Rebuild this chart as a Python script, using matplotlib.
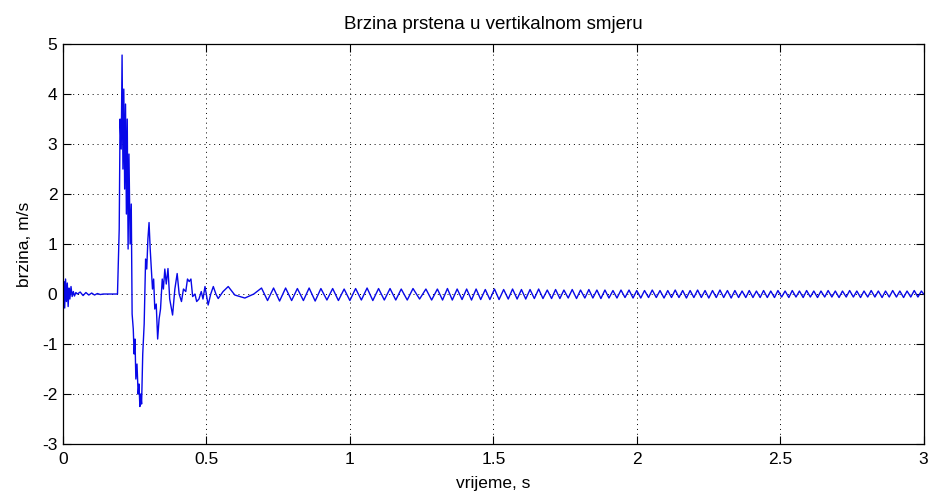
import numpy as np
import matplotlib
matplotlib.use("Agg")
import matplotlib.pyplot as plt

plt.rcParams['font.family'] = ['Liberation Sans', 'DejaVu Sans']
plt.rcParams['axes.unicode_minus'] = False

# impact transient (time s, velocity m/s)
t_early = [0.000, 0.003, 0.006, 0.009, 0.012, 0.015, 0.018, 0.021, 0.024, 0.028,
           0.032, 0.036, 0.040, 0.045, 0.050, 0.060, 0.070, 0.080, 0.090, 0.100,
           0.110, 0.120, 0.130, 0.140, 0.190, 0.196, 0.199, 0.203, 0.206, 0.209,
           0.212, 0.215, 0.218, 0.221, 0.224, 0.227, 0.230, 0.234, 0.238, 0.241,
           0.245, 0.248, 0.251, 0.254, 0.258, 0.262, 0.265, 0.268, 0.271, 0.274,
           0.278, 0.283, 0.288, 0.292, 0.296, 0.300, 0.304, 0.308, 0.312, 0.316,
           0.320, 0.325, 0.330, 0.335, 0.340, 0.346, 0.350, 0.355, 0.360, 0.366,
           0.372, 0.382, 0.390, 0.398, 0.405, 0.413, 0.420, 0.428, 0.434, 0.440,
           0.446, 0.452, 0.460, 0.466, 0.474, 0.482, 0.488, 0.495, 0.506, 0.515,
           0.524, 0.533, 0.541, 0.558, 0.576, 0.599, 0.634, 0.665]
v_early = [0.00, 0.25, -0.28, 0.30, -0.15, 0.22, -0.25, 0.12, -0.10, 0.15,
           -0.05, 0.05, -0.04, 0.03, 0.00, 0.04, -0.03, 0.03, -0.02, 0.02,
           -0.02, 0.01, -0.01, 0.00, 0.00, 1.30, 3.50, 2.90, 4.78, 2.50,
           4.10, 2.10, 3.80, 1.60, 3.50, 0.90, 2.80, 1.00, 1.80, -0.40,
           -0.70, -1.20, -0.90, -1.70, -1.40, -2.00, -1.80, -2.25, -2.00, -2.20,
           -1.20, -0.60, 0.70, 0.50, 1.10, 1.43, 0.90, 0.50, 0.10, 0.30,
           -0.30, -0.20, -0.90, -0.50, -0.30, 0.30, 0.10, 0.50, 0.20, 0.51,
           -0.10, -0.42, 0.10, 0.41, 0.00, -0.15, 0.10, 0.05, 0.30, 0.25,
           0.30, -0.05, 0.00, -0.15, -0.10, 0.05, -0.10, 0.15, -0.22, 0.00,
           0.15, 0.00, -0.09, 0.05, 0.15, -0.02, -0.08, 0.00]

# ring oscillation afterwards: successive peaks and troughs
t_osc = [0.692, 0.713, 0.734, 0.755, 0.776, 0.797, 0.817, 0.838, 0.858, 0.879,
         0.899, 0.920, 0.940, 0.960, 0.980, 1.000, 1.020, 1.040, 1.060, 1.080,
         1.100, 1.120, 1.140, 1.160, 1.179, 1.200, 1.220, 1.243, 1.265, 1.285,
         1.305, 1.323, 1.340, 1.357, 1.374, 1.391, 1.407, 1.424, 1.440, 1.456,
         1.472, 1.488, 1.504, 1.520, 1.536, 1.552, 1.567, 1.583, 1.598, 1.613,
         1.628, 1.643, 1.658, 1.673, 1.688, 1.703, 1.717, 1.732, 1.746, 1.761,
         1.775, 1.790, 1.804, 1.819, 1.833, 1.847, 1.861, 1.875, 1.889, 1.903,
         1.917, 1.931, 1.945, 1.959, 1.973, 1.987, 2.000, 2.014, 2.027, 2.041,
         2.054, 2.068, 2.081, 2.095, 2.108, 2.121, 2.134, 2.147, 2.160, 2.173,
         2.186, 2.199, 2.212, 2.225, 2.238, 2.251, 2.264, 2.277, 2.290, 2.303,
         2.316, 2.329, 2.342, 2.355, 2.367, 2.380, 2.392, 2.405, 2.417, 2.430,
         2.442, 2.455, 2.467, 2.480, 2.492, 2.505, 2.517, 2.530, 2.542, 2.555,
         2.567, 2.580, 2.592, 2.605, 2.617, 2.630, 2.642, 2.655, 2.667, 2.680,
         2.692, 2.705, 2.717, 2.730, 2.742, 2.755, 2.767, 2.780, 2.792, 2.805,
         2.817, 2.830, 2.842, 2.855, 2.867, 2.880, 2.892, 2.905, 2.917, 2.930,
         2.942, 2.955, 2.967, 2.980, 2.992, 3.000]
v_osc = [0.12, -0.13, 0.12, -0.14, 0.12, -0.13, 0.11, -0.13, 0.12, -0.14,
         0.11, -0.12, 0.11, -0.13, 0.10, -0.13, 0.11, -0.12, 0.12, -0.13,
         0.11, -0.12, 0.11, -0.12, 0.10, -0.12, 0.11, -0.10, 0.10, -0.12,
         0.10, -0.12, 0.11, -0.12, 0.10, -0.11, 0.10, -0.12, 0.10, -0.11,
         0.09, -0.11, 0.10, -0.11, 0.09, -0.10, 0.10, -0.10, 0.09, -0.10,
         0.09, -0.09, 0.10, -0.09, 0.08, -0.09, 0.09, -0.09, 0.08, -0.08,
         0.09, -0.09, 0.08, -0.08, 0.09, -0.08, 0.08, -0.09, 0.08, -0.08,
         0.07, -0.08, 0.08, -0.07, 0.08, -0.08, 0.07, -0.08, 0.07, -0.07,
         0.08, -0.07, 0.07, -0.08, 0.07, -0.07, 0.08, -0.07, 0.07, -0.08,
         0.07, -0.07, 0.08, -0.07, 0.07, -0.08, 0.07, -0.07, 0.08, -0.07,
         0.07, -0.08, 0.07, -0.07, 0.06, -0.07, 0.07, -0.07, 0.06, -0.07,
         0.07, -0.07, 0.06, -0.07, 0.07, -0.06, 0.06, -0.07, 0.07, -0.06,
         0.06, -0.07, 0.07, -0.06, 0.06, -0.07, 0.06, -0.06, 0.07, -0.06,
         0.06, -0.07, 0.06, -0.06, 0.07, -0.06, 0.06, -0.07, 0.06, -0.06,
         0.07, -0.06, 0.06, -0.07, 0.06, -0.06, 0.07, -0.06, 0.06, -0.07,
         0.06, -0.06, 0.07, -0.06, 0.06, 0.00]

x_ticks = [0, 0.5, 1, 1.5, 2, 2.5, 3]
x_labels = ['0', '0.5', '1', '1.5', '2', '2.5', '3']
y_ticks = [-3, -2, -1, 0, 1, 2, 3, 4, 5]

t = np.array(t_early + t_osc)
v = np.array(v_early + v_osc)

fig = plt.figure(figsize=(9.33, 4.95), dpi=100)
ax = fig.add_axes([0.0675, 0.103, 0.9225, 0.808])
ax.plot(t, v, color='#0808e8', lw=1.0)

ax.set_xlim(0, 3)
ax.set_ylim(-3, 5)
ax.set_xticks(x_ticks)
ax.set_xticklabels(x_labels)
ax.set_yticks(y_ticks)
ax.grid(True, color='black', linestyle=(0, (1, 4)), lw=0.7)
ax.tick_params(direction='in', length=6, width=0.8, top=True, right=True,
               labelsize=12.5, pad=4)
ax.tick_params(axis='x', pad=6)
for s in ax.spines.values():
    s.set_linewidth(0.9)

ax.set_title('Brzina prstena u vertikalnom smjeru', fontsize=13.5, pad=11)
ax.set_xlabel('vrijeme, s', fontsize=12.5, labelpad=6)
ax.set_ylabel('brzina, m/s', fontsize=12.5, labelpad=7)

fig.savefig('out.png', dpi=100)
